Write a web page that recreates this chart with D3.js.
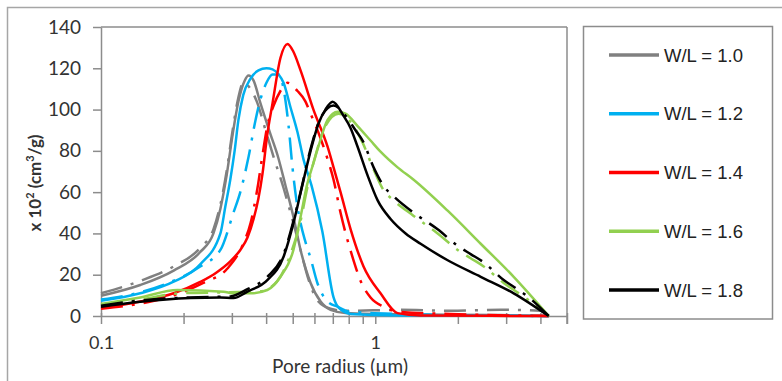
<!DOCTYPE html>
<html>
<head>
<meta charset="utf-8">
<script src="https://cdn.jsdelivr.net/npm/d3@7"></script>
<style>
  body { margin: 0; background: #fff; }
  svg { display: block; font-family: Lato, "Open Sans", sans-serif; }
</style>
</head>
<body>
<div id="chart"></div>
<script>
// pore radius (µm) / value (x 10^2 cm3/g)
var wl10Solid = [[0.100,9.8],[0.139,15],[0.184,22],[0.230,31],[0.257,40],[0.2725,52],[0.287,68],[0.302,88],[0.317,104],[0.334,114],[0.345,116.5],[0.360,114],[0.3815,103],[0.415,88],[0.440,78],[0.471,63],[0.503,48],[0.534,32],[0.581,16],[0.632,7],[0.687,3],[0.779,1.5],[1.237,0.8],[2.86,0.5],[4.29,0]];
var wl10Dash = [[0.100,11],[0.139,17],[0.184,24],[0.230,33],[0.257,42],[0.2725,54],[0.287,70],[0.302,90],[0.317,106],[0.330,113],[0.351,110],[0.372,103],[0.398,90],[0.426,77],[0.463,62],[0.503,45],[0.534,32],[0.570,18],[0.620,7],[0.687,3.5],[0.779,2.5],[1.237,3],[1.88,2.5],[2.86,3],[4.01,2.5],[4.29,0]];
var wl12Solid = [[0.100,7.4],[0.139,11],[0.184,16.6],[0.230,25],[0.2725,40],[0.284,53],[0.296,66],[0.307,80],[0.317,95],[0.330,107],[0.351,115],[0.375,119],[0.401,120],[0.422,119.5],[0.444,117],[0.463,113],[0.491,101],[0.5205,89],[0.547,76],[0.586,63],[0.641,41],[0.7045,9],[0.735,4],[0.813,1],[1.237,0.3],[4.29,0]];
var wl12Dash = [[0.100,8],[0.139,11.5],[0.1745,15.8],[0.230,24],[0.2725,32],[0.304,50],[0.322,60],[0.345,77],[0.366,95],[0.3815,105],[0.401,113],[0.422,117],[0.444,117],[0.463,110],[0.483,92],[0.499,72],[0.516,56],[0.534,45],[0.556,36],[0.581,28],[0.615,16],[0.670,7],[0.729,4.5],[0.813,2],[1.237,1],[4.29,0]];
var wl14Solid = [[0.100,3.9],[0.139,7],[0.184,11],[0.230,16.5],[0.263,21],[0.296,26.5],[0.322,32],[0.342,38],[0.360,47],[0.375,57],[0.388,69],[0.404,88],[0.422,103],[0.451,125],[0.479,131.8],[0.503,128],[0.534,119],[0.595,100],[0.670,82],[0.7045,72],[0.747,60],[0.813,42],[0.906,24],[1.045,11],[1.206,1.4],[1.463,0.3],[4.29,0]];
var wl14Dash = [[0.100,3.5],[0.139,6],[0.184,10],[0.236,16],[0.289,23],[0.330,35],[0.351,45],[0.372,62],[0.388,78],[0.404,92],[0.426,102],[0.451,109],[0.479,113],[0.5205,109],[0.556,104],[0.581,98],[0.632,86],[0.670,76],[0.7045,66],[0.747,50],[0.795,36],[0.833,27],[0.884,17],[0.961,9],[1.072,4.5],[1.237,2],[1.88,1],[4.29,0]];
var wl16Solid = [[0.100,5.8],[0.139,9],[0.190,12.6],[0.280,11.8],[0.304,11],[0.351,11],[0.404,12.6],[0.451,19],[0.503,32],[0.534,48],[0.565,64],[0.595,74],[0.620,82],[0.670,95],[0.729,99],[0.779,98],[0.862,92],[0.961,85],[1.045,79.6],[1.206,72],[1.380,66],[1.836,51],[2.423,35],[3.196,19],[4.29,0]];
var wl16Dash = [[0.100,5.5],[0.139,8],[0.195,11],[0.296,11.5],[0.3815,12],[0.440,17],[0.491,30],[0.534,46],[0.565,62],[0.606,78],[0.658,92],[0.735,98],[0.813,94],[0.899,84],[0.986,71],[1.072,61],[1.166,56],[1.380,48.5],[1.688,40],[1.997,32],[2.227,28],[2.485,24],[2.939,16],[3.251,12],[3.596,8],[4.29,0]];
var wl18Solid = [[0.100,4.5],[0.139,6.9],[0.212,8.7],[0.2725,9],[0.304,8.7],[0.342,11.8],[0.404,17.4],[0.463,28.7],[0.503,45],[0.534,59.6],[0.581,80],[0.620,93],[0.658,100],[0.699,103.8],[0.766,97],[0.813,91],[0.862,82],[0.938,68],[1.020,56],[1.137,47],[1.290,40],[1.463,35],[1.836,27],[2.423,19],[3.196,11],[4.29,0]];
var wl18Dash = [[0.100,5],[0.139,7.5],[0.212,9],[0.296,9.5],[0.342,13],[0.404,19],[0.463,30],[0.503,46],[0.534,60],[0.581,81],[0.632,96],[0.7045,102],[0.779,97],[0.847,90],[0.899,85],[0.986,72],[1.072,63],[1.166,58],[1.380,50],[1.688,42],[1.997,34],[2.227,30],[2.485,26],[2.939,17.4],[3.251,13.5],[3.596,9.4],[4.29,0]];

var seriesNames = ["W/L = 1.0", "W/L = 1.2", "W/L = 1.4", "W/L = 1.6", "W/L = 1.8"];
var seriesColors = ["#808080", "#00b0f0", "#ff0000", "#92d050", "#000000"];
var solidData = [wl10Solid, wl12Solid, wl14Solid, wl16Solid, wl18Solid];
var dashData = [wl10Dash, wl12Dash, wl14Dash, wl16Dash, wl18Dash];

var xTicks = [0.1,0.2,0.3,0.4,0.5,0.6,0.7,0.8,0.9,1,2,3,4,5];
var xTickLabels = {0.1: "0.1", 1: "1"};
var yTicks = [0,20,40,60,80,100,120,140];

var width = 782, height = 381;
var plotLeft = 101, plotRight = 567, plotTop = 27, plotBottom = 316;

var svg = d3.select("#chart")
  .append("svg")
  .attr("width", width)
  .attr("height", height);

// chart border
svg.append("rect")
  .attr("x", 7.5).attr("y", 7.5)
  .attr("width", 800).attr("height", 400)
  .attr("fill", "none")
  .attr("stroke", "#a6a6a6")
  .attr("stroke-width", 1.5);

var x = d3.scaleLog().domain([0.1, 5]).range([plotLeft, plotRight]);
var y = d3.scaleLinear().domain([0, 140]).range([plotBottom, plotTop]);

// plot frame top and right
svg.append("line")
  .attr("x1", plotLeft).attr("x2", plotRight)
  .attr("y1", plotTop).attr("y2", plotTop)
  .attr("stroke", "#8c8c8c").attr("stroke-width", 1.5);
svg.append("line")
  .attr("x1", plotRight).attr("x2", plotRight)
  .attr("y1", plotTop).attr("y2", plotBottom + 8)
  .attr("stroke", "#8c8c8c").attr("stroke-width", 1.5);

// axes
var xAxis = d3.axisBottom(x)
  .tickValues(xTicks)
  .tickSize(8)
  .tickSizeOuter(0)
  .tickPadding(12)
  .tickFormat(function(d) { return xTickLabels[d] || ""; });

var yAxis = d3.axisLeft(y)
  .tickValues(yTicks)
  .tickSize(8)
  .tickSizeOuter(0)
  .tickPadding(12);

var gx = svg.append("g")
  .attr("transform", "translate(0," + plotBottom + ")")
  .call(xAxis);
var gy = svg.append("g")
  .attr("transform", "translate(" + plotLeft + ",0)")
  .call(yAxis);

[gx, gy].forEach(function(g) {
  g.select(".domain").attr("stroke", "#8c8c8c").attr("stroke-width", 1.5);
  g.selectAll(".tick line").attr("stroke", "#8c8c8c").attr("stroke-width", 1.5);
  g.selectAll(".tick text")
    .attr("fill", "#333")
    .style("font-family", "Lato, sans-serif")
    .style("font-size", "19px");
});
gx.selectAll(".tick line").attr("y1", -3);
gx.selectAll(".tick text").style("font-size", "18px");

// axis titles
svg.append("text")
  .attr("x", 340).attr("y", 373)
  .attr("text-anchor", "middle")
  .attr("fill", "#333")
  .style("font-size", "19px")
  .text("Pore radius (µm)");

var yTitle = svg.append("text")
  .attr("transform", "translate(41,183) rotate(-90)")
  .attr("text-anchor", "middle")
  .attr("fill", "#333")
  .style("font-size", "17px")
  .style("font-weight", "bold");
yTitle.append("tspan").text("x 10");
yTitle.append("tspan").attr("dy", -7).style("font-size", "11px").text("2");
yTitle.append("tspan").attr("dy", 7).text(" (cm");
yTitle.append("tspan").attr("dy", -7).style("font-size", "11px").text("3");
yTitle.append("tspan").attr("dy", 7).text("/g)");

// lines
var line = d3.line()
  .x(function(d) { return x(d[0]); })
  .y(function(d) { return y(d[1]); })
  .curve(d3.curveMonotoneX);

var plot = svg.append("g");
seriesNames.forEach(function(name, i) {
  plot.append("path")
    .datum(solidData[i])
    .attr("d", line)
    .attr("fill", "none")
    .attr("stroke", seriesColors[i])
    .attr("stroke-width", 2.5);
  plot.append("path")
    .datum(dashData[i])
    .attr("d", line)
    .attr("fill", "none")
    .attr("stroke", seriesColors[i])
    .attr("stroke-width", 2.5)
    .attr("stroke-dasharray", "22,9,3,9");
});

// legend
var legend = svg.append("g");
legend.append("rect")
  .attr("x", 583.5).attr("y", 26.5)
  .attr("width", 189).attr("height", 292.5)
  .attr("fill", "#fff")
  .attr("stroke", "#8c8c8c")
  .attr("stroke-width", 1.5);

var legendY = d3.scalePoint().domain(seriesNames).range([55, 290]);

seriesNames.forEach(function(name, i) {
  legend.append("line")
    .attr("x1", 609).attr("x2", 659)
    .attr("y1", legendY(name)).attr("y2", legendY(name))
    .attr("stroke", seriesColors[i])
    .attr("stroke-width", 3.5);
  legend.append("text")
    .attr("x", 664).attr("y", legendY(name))
    .attr("dy", "0.36em")
    .attr("fill", "#222")
    .style("font-family", "'Liberation Sans', Arial, sans-serif")
    .style("font-size", "18.5px")
    .text(name);
});
</script>
</body>
</html>
